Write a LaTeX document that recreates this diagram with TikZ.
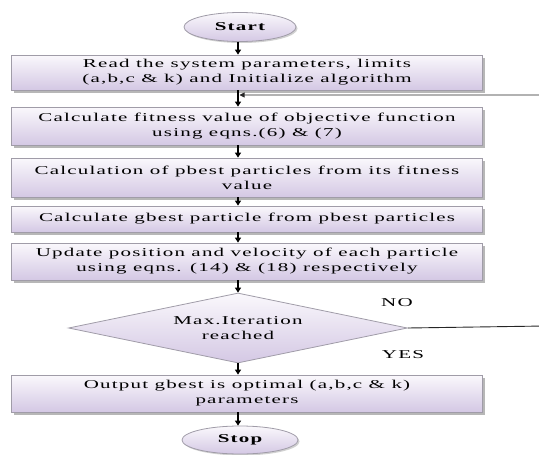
\documentclass[tikz,border=0pt]{standalone}
\usepackage{fontspec}
\setmainfont{Liberation Serif}[FakeStretch=1.75,LetterSpace=10]
\usetikzlibrary{shapes.geometric,shadows,arrows.meta}
\definecolor{boxtop}{RGB}{250,248,252}
\definecolor{boxbot}{RGB}{212,200,228}
\definecolor{edgec}{RGB}{160,156,168}
\tikzset{
  procbox/.style={rectangle, draw=edgec, line width=0.8pt, top color=boxtop, bottom color=boxbot,
    minimum width=471pt, inner sep=0pt, align=center, text=black,
    font=\fontsize{12}{15}\selectfont,
    drop shadow={shadow xshift=2.5pt, shadow yshift=-2.5pt, fill=black!40, opacity=0.7}},
  termnode/.style={ellipse, draw=edgec, line width=0.8pt, top color=boxtop, bottom color=boxbot,
    inner sep=0pt, font=\fontsize{12}{15}\selectfont\bfseries,
    drop shadow={shadow xshift=1.5pt, shadow yshift=-1.5pt, fill=black!30, opacity=0.6}},
  decnode/.style={diamond, draw=edgec, line width=0.8pt, top color=boxtop, bottom color=boxbot,
    inner sep=0pt, aspect=4.84, align=center, font=\fontsize{12}{15}\selectfont},
  lbl/.style={font=\fontsize{12}{15}\selectfont, inner sep=0pt},
  flow/.style={line width=1.5pt, -{Triangle[length=5pt,width=6pt]}},
  fbline/.style={line width=0.9pt, black!85, -{Triangle[length=5pt,width=5pt]}}
}
\begin{document}
\begin{tikzpicture}[x=1pt,y=-1pt]
\useasboundingbox (0,0) rectangle (539,455);
\node[termnode, minimum width=112pt, minimum height=29pt] (start) at (240,27) {Start};
\node[procbox, minimum height=35pt] (b1) at (247,72.5) {Read the system parameters, limits\\(a,b,c \& k) and Initialize algorithm};
\node[procbox, minimum height=38pt] (b2) at (247,126) {Calculate fitness value of objective function\\using eqns.(6) \& (7)};
\node[procbox, minimum height=39pt] (b3) at (247,177.5) {Calculation of pbest particles from its fitness\\value};
\node[procbox, minimum height=26pt] (b4) at (247,219) {Calculate gbest particle from pbest particles};
\node[procbox, minimum height=37pt] (b5) at (247,261.5) {Update position and velocity of each particle\\using eqns. (14) \& (18) respectively};
\node[decnode, minimum width=339pt, minimum height=70pt] (d) at (238,328) {Max.Iteration\\reached};
\node[procbox, minimum height=37pt] (b6) at (247,393.5) {Output gbest is optimal (a,b,c \& k)\\parameters};
\node[termnode, minimum width=116pt, minimum height=28pt] (stop) at (240,440) {Stop};
\node[lbl] (no) at (397,303) {NO};
\node[lbl] (yes) at (403,355) {YES};
\coordinate (ax) at (238,0);
\draw[flow] (start.south -| ax) -- (b1.north -| ax);
\draw[flow] (b1.south -| ax) -- (b2.north -| ax);
\draw[flow] (b2.south -| ax) -- (b3.north -| ax);
\draw[flow] (b3.south -| ax) -- (b4.north -| ax);
\draw[flow] (b4.south -| ax) -- (b5.north -| ax);
\draw[flow] (b5.south -| ax) -- (d.north -| ax);
\draw[flow] (d.south -| ax) -- (b6.north -| ax);
\draw[flow] (b6.south -| ax) -- (stop.north -| ax);
\coordinate (r1) at (545,326);
\coordinate (r2) at (545,95);
\coordinate (tgt) at (239.5,95);
\draw[fbline] (d.east) -- (r1) -- (r2) -- (tgt);
\end{tikzpicture}
\end{document}
